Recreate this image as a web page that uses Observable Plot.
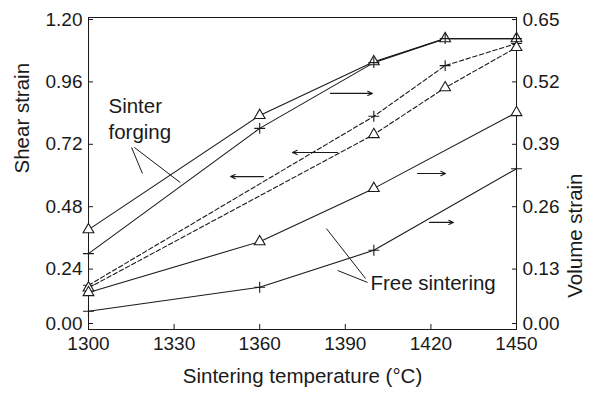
<!DOCTYPE html>
<html><head><meta charset="utf-8">
<script src="https://cdn.jsdelivr.net/npm/d3@7"></script>
<script src="https://cdn.jsdelivr.net/npm/@observablehq/plot@0.6"></script>
<style>
body{margin:0;background:#fff}
svg{font-family:"Liberation Sans",Arial,Helvetica,sans-serif}
</style>
</head><body><div id="chart"></div>
<script>
// Sinter forging – volume strain (right axis)
const sfTemps = [1300, 1360, 1400, 1425, 1450];
const sfVolTriangle = [0.208, 0.446, 0.558, 0.606, 0.606];
const sfVolPlus = [0.158, 0.419, 0.556, 0.606, 0.606];
// Sinter forging – shear strain (left axis)
const sfShearTemps = [1300, 1400, 1425, 1450];
const sfShearPlus = [0.17, 0.82, 1.015, 1.10];
const sfShearTriangle = [0.16, 0.75, 0.93, 1.085];
// Free sintering – volume strain (right axis)
const fsTemps = [1300, 1360, 1400, 1450];
const fsVolTriangle = [0.077, 0.183, 0.294, 0.452];
const fsVolPlus = [0.038, 0.088, 0.165, 0.335];

// tick labels
const xTicks = [1300, 1330, 1360, 1390, 1420, 1450];
const shearTicks = [0.00, 0.24, 0.48, 0.72, 0.96, 1.20];
const volumeTickLabels = ["0.00", "0.13", "0.26", "0.39", "0.52", "0.65"];
const shearMax = 1.20, volumeMax = 0.65;

// annotations (temperature, shear-axis units)
const arrows = [
  [1384.8, 0.908, 1399.5, 0.908],
  [1387.3, 0.681, 1371.5, 0.681],
  [1361.3, 0.588, 1349.8, 0.588],
  [1415.3, 0.600, 1425.1, 0.600],
  [1419.5, 0.412, 1427.9, 0.412]
];
const leaders = [
  [1315.1, 0.700, 1318.9, 0.600],
  [1316.1, 0.700, 1332.2, 0.565],
  [1383.4, 0.388, 1397.1, 0.196],
  [1387.3, 0.227, 1397.8, 0.181]
];
const labels = [
  {t: 1307.0, v: 0.858, text: "Sinter"},
  {t: 1307.0, v: 0.758, text: "forging"},
  {t: 1398.8, v: 0.177, text: "Free sintering"}
];

const k = shearMax / volumeMax;
function series(name, xs, ys, scale, symbol, dashed) {
  return xs.map((x, i) => ({name, x, y: ys[i] * scale, symbol, dashed}));
}
const allSeries = [
  series("sfVolTri", sfTemps, sfVolTriangle, k, "triangle", false),
  series("sfVolPlus", sfTemps, sfVolPlus, k, "plus", false),
  series("sfShearPlus", sfShearTemps, sfShearPlus, 1, "plus", true),
  series("sfShearTri", sfShearTemps, sfShearTriangle, 1, "triangle", true),
  series("fsVolTri", fsTemps, fsVolTriangle, k, "triangle", false),
  series("fsVolPlus", fsTemps, fsVolPlus, k, "plus", false)
];

const ink = "#1a1a1a";
const font = "\"Liberation Sans\",Arial,Helvetica,sans-serif";
const upperTicks = shearTicks.slice(1);
const volFmt = d => volumeTickLabels[shearTicks.indexOf(d)];

const marks = [
  Plot.frame({stroke: ink, strokeWidth: 1}),
  Plot.axisX({ticks: xTicks, tickFormat: d => String(d), tickSize: -5, tickPadding: 12, label: null, fontSize: 19}),
  Plot.axisY({ticks: upperTicks, tickFormat: d3.format(".2f"), tickSize: -5, tickPadding: 11, label: null, fontSize: 19, anchor: "left", dy: 2}),
  Plot.axisY({ticks: [0], tickFormat: d3.format(".2f"), tickSize: -5, tickPadding: 11, label: null, fontSize: 19, anchor: "left", dy: -6}),
  Plot.axisY({ticks: upperTicks, tickFormat: volFmt, tickSize: -5, tickPadding: 11, label: null, fontSize: 19, anchor: "right", dy: 2}),
  Plot.axisY({ticks: [0], tickFormat: volFmt, tickSize: -5, tickPadding: 11, label: null, fontSize: 19, anchor: "right", dy: -6})
];
for (const s of allSeries) {
  marks.push(Plot.line(s, {x: "x", y: "y", stroke: ink, strokeWidth: 1.1,
    strokeDasharray: s[0].dashed ? "4.5,2.5" : null}));
}
for (const s of allSeries) {
  const tri = s[0].symbol === "triangle";
  marks.push(Plot.dot(s, {x: "x", y: "y", symbol: "symbol", r: tri ? 4 : 3.6,
    stroke: ink, strokeWidth: 1.1, fill: tri ? "white" : "none"}));
}
marks.push(
  Plot.arrow(arrows, {x1: d => d[0], y1: d => d[1], x2: d => d[2], y2: d => d[3], stroke: ink, strokeWidth: 1.1, headLength: 7, headAngle: 50}),
  Plot.link(leaders, {x1: d => d[0], y1: d => d[1], x2: d => d[2], y2: d => d[3], stroke: ink, strokeWidth: 1}),
  Plot.text(labels, {x: "t", y: "v", text: "text", textAnchor: "start", fontSize: 20.5, fill: ink}),
  Plot.text(["Sintering temperature (°C)"], {frameAnchor: "bottom", dy: 53, fontSize: 20.5, fill: ink}),
  Plot.text(["Shear strain"], {frameAnchor: "left", dx: -66, rotate: -90, fontSize: 20.5, fill: ink}),
  Plot.text(["Volume strain"], {frameAnchor: "right", dx: 59, rotate: -90, fontSize: 20.5, fill: ink})
);

const chart = Plot.plot({
  width: 595, height: 394,
  marginLeft: 88, marginRight: 79, marginTop: 17, marginBottom: 65,
  style: {fontFamily: font, background: "#fff", color: ink, overflow: "visible"},
  x: {type: "linear", domain: [1300, 1450]},
  y: {type: "linear", domain: [0, shearMax]},
  symbol: {type: "identity"},
  marks
});
document.getElementById("chart").appendChild(chart);
</script>
</body></html>
